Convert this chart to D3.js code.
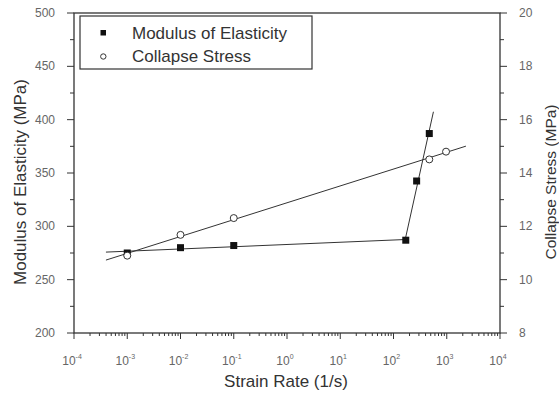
<!DOCTYPE html>
<html>
<head>
<meta charset="utf-8">
<script src="https://cdn.jsdelivr.net/npm/d3@7"></script>
<style>
  body { margin: 0; background: #fff; }
  svg { font-family: "Liberation Sans", Arial, sans-serif; }
</style>
</head>
<body>
<svg id="chart" width="559" height="394"></svg>
<script>
// strain rate (1/s)
var modRate = [0.001, 0.01, 0.1, 170, 272, 470];
var modValue = [275, 280, 282, 287, 342.5, 387];
var colRate = [0.001, 0.01, 0.1, 470, 970];
var colValue = [10.9, 11.68, 12.31, 14.51, 14.8];
var xTicks = [-4, -3, -2, -1, 0, 1, 2, 3, 4];
var leftTicks = [200, 250, 300, 350, 400, 450, 500];
var rightTicks = [8, 10, 12, 14, 16, 18, 20];

var svg = d3.select("svg#chart"),
	margin = { top: 13, right: 59, bottom: 61, left: 74 },
	width = 559 - margin.left - margin.right,
	height = 394 - margin.top - margin.bottom;

var x = d3.scaleLog().domain([1e-4, 1e4]).range([0, width]);
var yL = d3.scaleLinear().domain([200, 500]).range([height, 0]);
var yR = d3.scaleLinear().domain([8, 20]).range([height, 0]);

var g = svg.append("g")
	.attr("transform", "translate(" + margin.left + "," + margin.top + ")");

var ink = "#333", tickInk = "#666";

// frame
g.append("rect").attr("width", width).attr("height", height)
	.attr("fill", "none").attr("stroke", ink).attr("stroke-width", 1.3);

// x axis ticks (outward, down)
var minor = [];
for (var e = -4; e < 4; e++) for (var m = 2; m <= 9; m++) minor.push(m * Math.pow(10, e));
g.selectAll(".xminor").data(minor).enter().append("line")
	.attr("x1", function(d) { return x(d); }).attr("x2", function(d) { return x(d); })
	.attr("y1", height).attr("y2", height + 3)
	.attr("stroke", ink);
g.selectAll(".xmajor").data(xTicks).enter().append("line")
	.attr("x1", function(d) { return x(Math.pow(10, d)); }).attr("x2", function(d) { return x(Math.pow(10, d)); })
	.attr("y1", height).attr("y2", height + 6)
	.attr("stroke", ink);
var xl = g.selectAll(".xlab").data(xTicks).enter().append("text")
	.attr("x", function(d) { return x(Math.pow(10, d)) - 2; })
	.attr("y", height + 32)
	.attr("text-anchor", "middle")
	.attr("font-size", 12).attr("fill", tickInk);
xl.append("tspan").text("10");
xl.append("tspan").attr("dy", -6).attr("font-size", 7).text(function(d) { return d; });

// left axis
var leftMinor = d3.range(225, 500, 50);
g.selectAll(".lminor").data(leftMinor).enter().append("line")
	.attr("x1", -4).attr("x2", 0)
	.attr("y1", function(d) { return yL(d); }).attr("y2", function(d) { return yL(d); })
	.attr("stroke", ink);
g.selectAll(".lmajor").data(leftTicks).enter().append("line")
	.attr("x1", -7).attr("x2", 0)
	.attr("y1", function(d) { return yL(d); }).attr("y2", function(d) { return yL(d); })
	.attr("stroke", ink);
g.selectAll(".llab").data(leftTicks).enter().append("text")
	.attr("x", -19).attr("y", function(d) { return yL(d) + 4; })
	.attr("text-anchor", "end").attr("font-size", 12).attr("fill", tickInk)
	.text(function(d) { return d; });

// right axis
var rightMinor = d3.range(9, 20, 2);
g.selectAll(".rminor").data(rightMinor).enter().append("line")
	.attr("x1", width).attr("x2", width + 4)
	.attr("y1", function(d) { return yR(d); }).attr("y2", function(d) { return yR(d); })
	.attr("stroke", ink);
g.selectAll(".rmajor").data(rightTicks).enter().append("line")
	.attr("x1", width).attr("x2", width + 7)
	.attr("y1", function(d) { return yR(d); }).attr("y2", function(d) { return yR(d); })
	.attr("stroke", ink);
g.selectAll(".rlab").data(rightTicks).enter().append("text")
	.attr("x", width + 19).attr("y", function(d) { return yR(d) + 4; })
	.attr("text-anchor", "start").attr("font-size", 12).attr("fill", tickInk)
	.text(function(d) { return d; });

// axis titles
g.append("text").attr("x", width / 2 - 1).attr("y", height + 54)
	.attr("text-anchor", "middle").attr("font-size", 17).attr("fill", ink)
	.text("Strain Rate (1/s)");
g.append("text").attr("transform", "translate(" + (-48) + "," + (height / 2 + 9) + ") rotate(-90)")
	.attr("text-anchor", "middle").attr("font-size", 17).attr("fill", ink)
	.text("Modulus of Elasticity (MPa)");
g.append("text").attr("transform", "translate(" + (width + 56) + "," + (height / 2 + 9) + ") rotate(-90)")
	.attr("text-anchor", "middle").attr("font-size", 15.5).attr("fill", ink)
	.text("Collapse Stress (MPa)");

// least squares in log10(x)
function fit(xs, ys) {
	var lx = xs.map(function(d) { return Math.log10(d); });
	var mx = d3.mean(lx), my = d3.mean(ys);
	var sxy = d3.sum(lx, function(d, i) { return (d - mx) * (ys[i] - my); });
	var sxx = d3.sum(lx, function(d) { return (d - mx) * (d - mx); });
	var b = sxy / sxx;
	return function(l) { return my + b * (l - mx); };
}
var colFit = fit(colRate, colValue);
var modFit1 = fit(modRate.slice(0, 4), modValue.slice(0, 4));
var modFit2 = fit(modRate.slice(3), modValue.slice(3));

var line = d3.line();
// collapse fit
g.append("path")
	.attr("d", line([-3.4, 3.36].map(function(l) { return [x(Math.pow(10, l)), yR(colFit(l))]; })))
	.attr("fill", "none").attr("stroke", ink).attr("stroke-width", 1);

// modulus fit: two segments meeting at the knee
var knee = 2.22;
g.append("path")
	.attr("d", line([[x(Math.pow(10, -3.4)), yL(modFit1(-3.4))],
		[x(Math.pow(10, knee)), yL(modFit1(knee))],
		[x(Math.pow(10, 2.75)), yL(modFit2(2.75))]]))
	.attr("fill", "none").attr("stroke", ink).attr("stroke-width", 1);

// markers
g.selectAll(".sq").data(modRate).enter().append("rect")
	.attr("x", function(d) { return x(d) - 3.5; })
	.attr("y", function(d, i) { return yL(modValue[i]) - 3.5; })
	.attr("width", 7).attr("height", 7).attr("fill", "#111");
g.selectAll(".ci").data(colRate).enter().append("circle")
	.attr("cx", function(d) { return x(d); })
	.attr("cy", function(d, i) { return yR(colValue[i]); })
	.attr("r", 3.5).attr("fill", "#fff").attr("stroke", ink).attr("stroke-width", 1);

// legend
var lg = g.append("g").attr("transform", "translate(6,3)");
lg.append("rect").attr("width", 232).attr("height", 53)
	.attr("fill", "#fff").attr("stroke", ink).attr("stroke-width", 1.2);
lg.append("rect").attr("x", 20.5).attr("y", 14).attr("width", 5.5).attr("height", 5.5).attr("fill", "#111");
lg.append("circle").attr("cx", 23.3).attr("cy", 40.5).attr("r", 2.7).attr("fill", "#fff").attr("stroke", ink);
lg.append("text").attr("x", 52).attr("y", 22.5).attr("font-size", 17).attr("fill", ink).text("Modulus of Elasticity");
lg.append("text").attr("x", 52).attr("y", 46).attr("font-size", 17).attr("fill", ink).text("Collapse Stress");
</script>
</body>
</html>
